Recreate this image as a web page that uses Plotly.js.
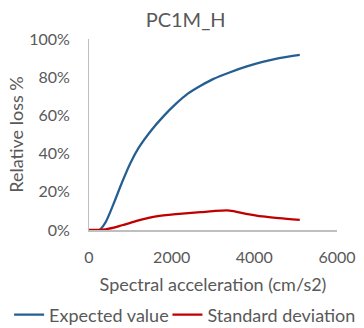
<!DOCTYPE html>
<html>
<head>
<meta charset="utf-8">
<script src="https://cdn.plot.ly/plotly-3.0.1.min.js"></script>
<style>html,body{margin:0;padding:0;background:#fff;}#chart{width:364px;height:328px;}</style>
</head>
<body>
<div id="chart"></div>
<script>
const accel = [0, 250, 400, 600, 800, 1000, 1200, 1500, 1800, 2100, 2400, 2700, 3000, 3400, 3800, 4200, 4600, 5100];
const expectedValue = [0, 0, 0.04, 0.14, 0.25, 0.35, 0.43, 0.52, 0.595, 0.66, 0.715, 0.755, 0.79, 0.825, 0.855, 0.88, 0.90, 0.917];
const standardDeviation = [0, 0.001, 0.004, 0.012, 0.025, 0.037, 0.05, 0.066, 0.076, 0.083, 0.088, 0.093, 0.099, 0.102, 0.085, 0.071, 0.062, 0.053];
const seriesNames = ["Expected value", "Standard deviation"];
const xTicks = [0, 2000, 4000, 6000];
const yTicks = [0, 0.2, 0.4, 0.6, 0.8, 1.0];

const txt = '#595959';
const font = 'Lato, "Open Sans", sans-serif';

const traces = [
  {x: accel, y: expectedValue, name: seriesNames[0], mode: 'lines', legend: 'legend',
   line: {color: '#255E91', width: 2.25, shape: 'spline', smoothing: 0.8}},
  {x: accel, y: standardDeviation, name: seriesNames[1], mode: 'lines', legend: 'legend2',
   line: {color: '#C00000', width: 2.25, shape: 'spline', smoothing: 0.8}}
];

const legBase = {orientation: 'h', xref: 'container', yref: 'container', xanchor: 'left', yanchor: 'middle', y: 0.04,
  font: {family: font, size: 18, color: txt}, itemwidth: 30, bgcolor: 'rgba(0,0,0,0)', borderwidth: 0};

const layout = {
  width: 364, height: 328,
  margin: {l: 89, r: 27, t: 39, b: 98, pad: 0},
  paper_bgcolor: '#fff', plot_bgcolor: '#fff',
  font: {family: font, color: txt, size: 16},
  title: {text: 'PC1M_H', font: {family: font, size: 20, color: txt}, x: 0.51, xanchor: 'center', y: 0.94, yanchor: 'middle'},
  xaxis: {
    range: [0, 6000], tickvals: xTicks, ticktext: xTicks.map(String),
    showgrid: false, zeroline: false, showline: true, linecolor: '#BFBFBF', linewidth: 2,
    ticks: 'outside', ticklen: 12, tickcolor: 'rgba(0,0,0,0)',
    tickfont: {family: font, size: 16, color: txt},
    title: {text: 'Spectral acceleration (cm/s2)', font: {family: font, size: 18, color: txt}, standoff: 13}
  },
  yaxis: {
    range: [0, 1], tickvals: yTicks, tickformat: '.0%',
    showgrid: false, zeroline: false, showline: true, linecolor: '#BFBFBF', linewidth: 1,
    ticks: 'outside', ticklen: 15, tickcolor: 'rgba(0,0,0,0)',
    tickfont: {family: font, size: 16, color: txt},
    title: {text: 'Relative loss %', font: {family: font, size: 18, color: txt}, standoff: 0}
  },
  showlegend: true,
  legend: Object.assign({}, legBase, {x: 0.025}),
  legend2: Object.assign({}, legBase, {x: 0.46})
};

Plotly.newPlot('chart', traces, layout, {staticPlot: true, displayModeBar: false});
</script>
</body>
</html>
